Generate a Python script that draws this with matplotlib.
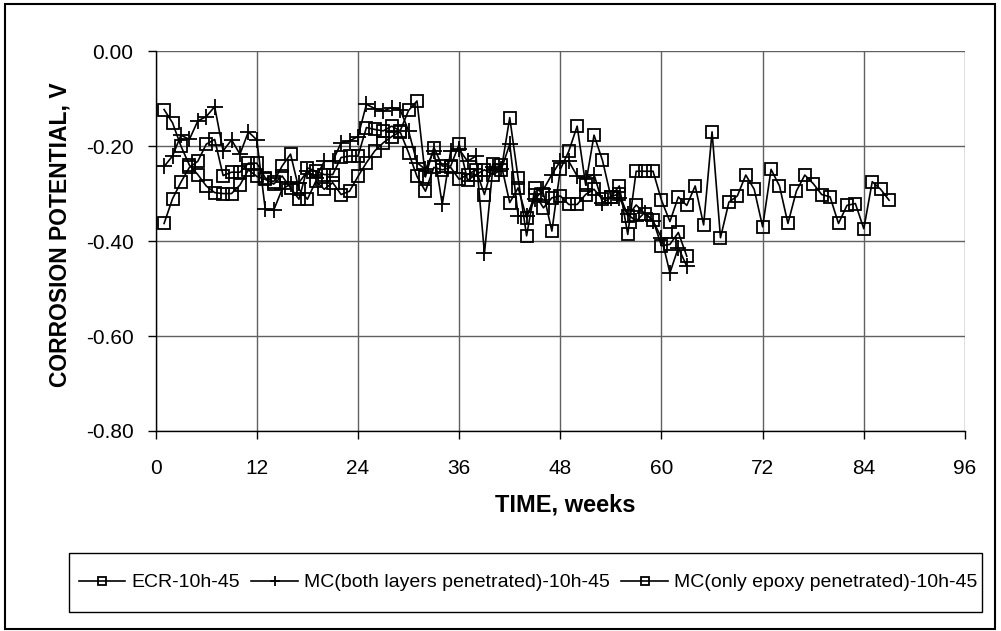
import matplotlib
matplotlib.use("Agg")
import matplotlib.pyplot as plt
from matplotlib.patches import Rectangle

plt.rcParams['font.family'] = ['Liberation Sans', 'DejaVu Sans']

# ECR-10h-45, weeks 1..87
ecr_weeks = list(range(1, 88))
ecr = [-0.123, -0.151, -0.200, -0.240, -0.260, -0.284, -0.298, -0.300, -0.300, -0.282,
       -0.250, -0.264, -0.270, -0.280, -0.263, -0.288, -0.312, -0.246, -0.253, -0.260,
       -0.260, -0.224, -0.221, -0.221, -0.161, -0.165, -0.168, -0.158, -0.168, -0.125,
       -0.105, -0.265, -0.203, -0.242, -0.242, -0.196, -0.272, -0.260, -0.250, -0.260,
       -0.250, -0.140, -0.268, -0.389, -0.288, -0.300, -0.379, -0.249, -0.211, -0.158,
       -0.281, -0.177, -0.230, -0.307, -0.284, -0.386, -0.253, -0.253, -0.253, -0.314,
       -0.359, -0.307, -0.325, -0.284, -0.366, -0.170, -0.393, -0.318, -0.305, -0.261,
       -0.291, -0.370, -0.249, -0.284, -0.363, -0.295, -0.261, -0.279, -0.302, -0.307,
       -0.363, -0.325, -0.321, -0.374, -0.275, -0.291, -0.314]

# MC(both layers penetrated)-10h-45, weeks 1..63
both_weeks = list(range(1, 64))
both = [-0.243, -0.221, -0.177, -0.186, -0.147, -0.138, -0.117, -0.210, -0.187, -0.217,
        -0.170, -0.187, -0.333, -0.335, -0.291, -0.280, -0.277, -0.253, -0.267, -0.232,
        -0.232, -0.193, -0.189, -0.180, -0.112, -0.121, -0.126, -0.119, -0.123, -0.168,
        -0.235, -0.249, -0.210, -0.323, -0.210, -0.207, -0.232, -0.221, -0.426, -0.245,
        -0.249, -0.196, -0.347, -0.347, -0.312, -0.291, -0.260, -0.232, -0.232, -0.263,
        -0.267, -0.260, -0.319, -0.309, -0.309, -0.344, -0.358, -0.340, -0.358, -0.393,
        -0.467, -0.414, -0.453]

# MC(only epoxy penetrated)-10h-45, weeks 1..63
epoxy_weeks = list(range(1, 64))
epoxy = [-0.363, -0.311, -0.276, -0.245, -0.232, -0.196, -0.186, -0.262, -0.255, -0.255,
         -0.236, -0.236, -0.267, -0.275, -0.242, -0.217, -0.291, -0.312, -0.274, -0.291,
         -0.277, -0.302, -0.295, -0.264, -0.235, -0.210, -0.193, -0.180, -0.170, -0.214,
         -0.264, -0.295, -0.245, -0.250, -0.245, -0.270, -0.260, -0.250, -0.302, -0.238,
         -0.240, -0.319, -0.288, -0.351, -0.302, -0.330, -0.309, -0.305, -0.323, -0.323,
         -0.302, -0.291, -0.312, -0.307, -0.300, -0.347, -0.324, -0.342, -0.356, -0.410,
         -0.407, -0.382, -0.432]

x_ticks = [0, 12, 24, 36, 48, 60, 72, 84, 96]
y_ticks = [0.0, -0.2, -0.4, -0.6, -0.8]

fig = plt.figure(figsize=(10.01, 6.31), dpi=100)
ax = fig.add_axes([0.1555, 0.317, 0.8085, 0.602])

sq = dict(marker='s', markersize=8.5, markerfacecolor='none', markeredgecolor='black',
          markeredgewidth=1.3, color='black', linewidth=1.2)
ax.plot(ecr_weeks, ecr, label='ECR-10h-45', **sq)
ax.plot(both_weeks, both, label='MC(both layers penetrated)-10h-45', marker='+',
        markersize=11, markeredgewidth=1.3, color='black', linewidth=1.2)
ax.plot(epoxy_weeks, epoxy, label='MC(only epoxy penetrated)-10h-45', **sq)

ax.set_xlim(0, 96)
ax.set_ylim(-0.8, 0.0)
ax.set_xticks(x_ticks)
ax.set_yticks(y_ticks)
ax.set_yticklabels(['%.2f' % v for v in y_ticks])
ax.grid(True, color='#606060', linewidth=1.0)
ax.set_axisbelow(True)
for s in ['top', 'right']:
    ax.spines[s].set_visible(False)
for s in ['left', 'bottom']:
    ax.spines[s].set_linewidth(1.0)
ax.tick_params(direction='out', length=6, width=1.0, labelsize=15)
ax.tick_params(axis='x', pad=14)
ax.tick_params(axis='y', pad=10)

ax.set_xlabel('TIME, weeks', fontsize=17, fontweight='bold')
ax.set_ylabel('CORROSION POTENTIAL, V', fontsize=16.5, fontweight='bold')
ax.xaxis.set_label_coords(0.506, -0.164)
ax.yaxis.set_label_coords(-0.104, 0.518)

# legend entries without their own frame; box drawn separately
leg = fig.legend(loc='center', ncol=3, fontsize=14,
                 bbox_to_anchor=(528 / 1001, 1 - 582.5 / 631),
                 frameon=False, handlelength=2.4, handletextpad=0.3,
                 columnspacing=0.6, borderaxespad=0, markerscale=0.7)

fig.patches.append(Rectangle((69 / 1001, 1 - 612 / 631), 913 / 1001, 59 / 631,
                             transform=fig.transFigure, fill=False,
                             edgecolor='black', linewidth=1.0))
fig.patches.append(Rectangle((5 / 1001, 2 / 631), 990 / 1001, 625 / 631,
                             transform=fig.transFigure, fill=False,
                             edgecolor='black', linewidth=1.5))

fig.savefig('out.png', dpi=100)
